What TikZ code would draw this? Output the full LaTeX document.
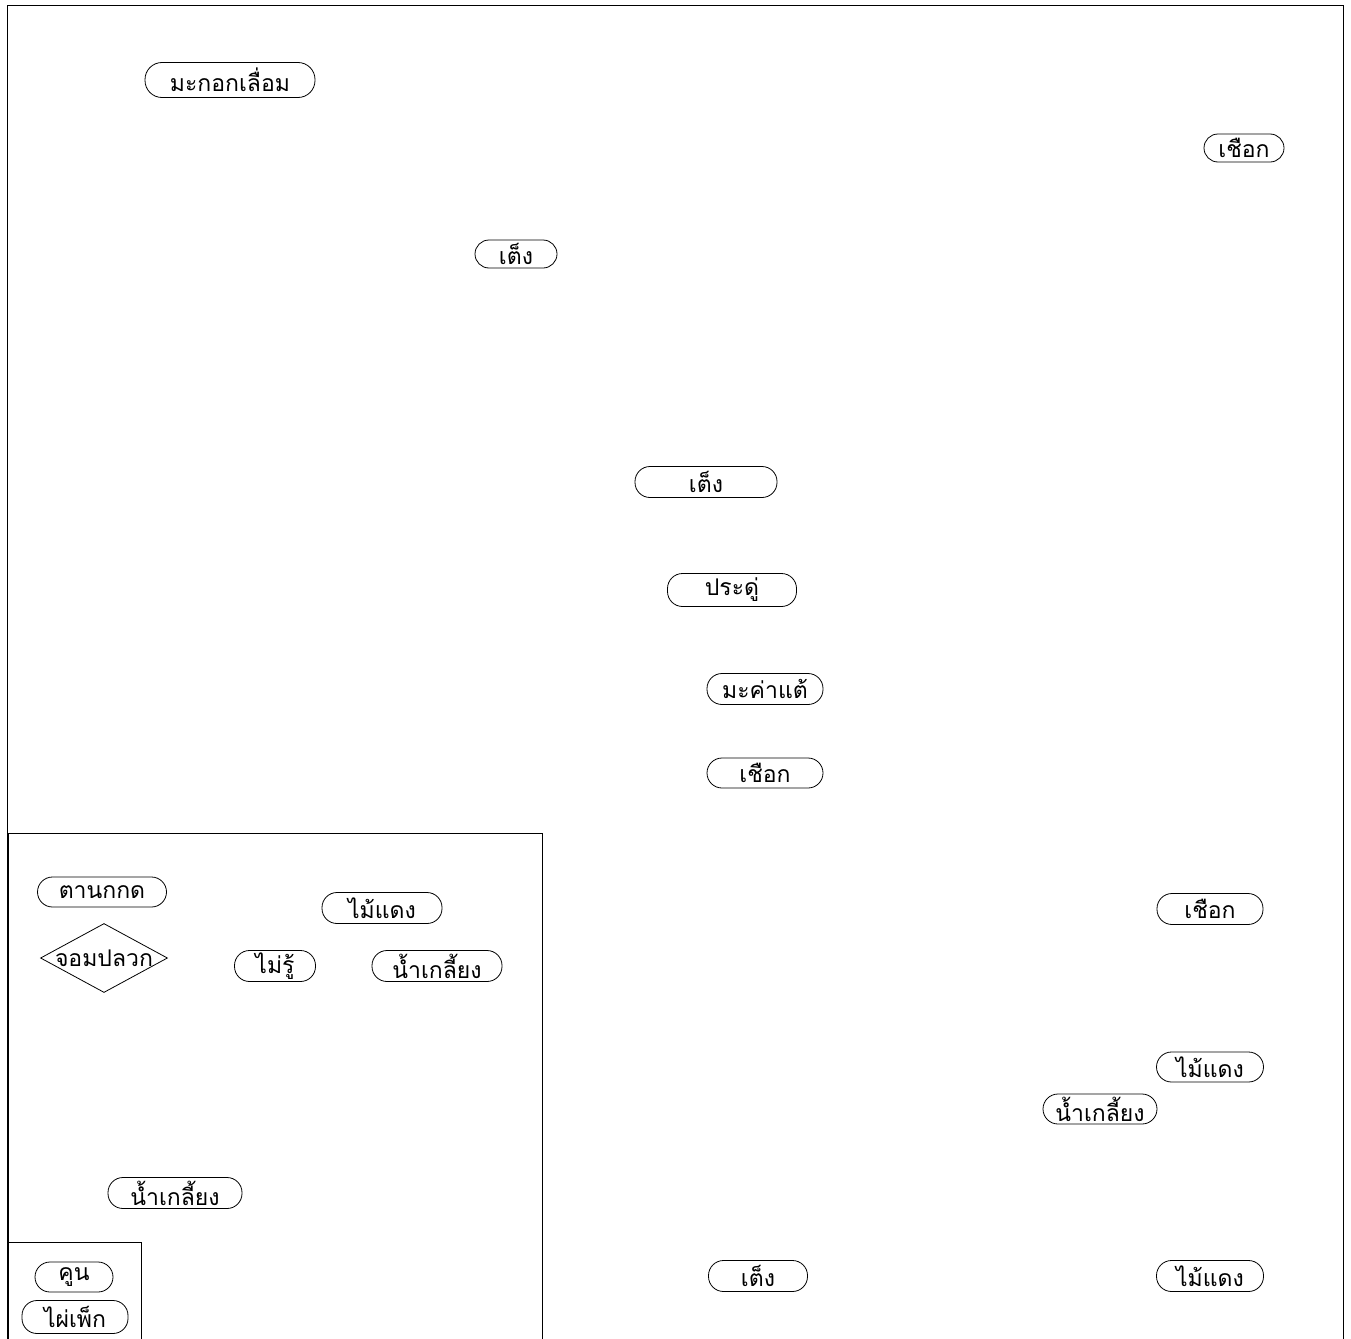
\documentclass[tikz,border=0pt]{standalone}
\usepackage{fontspec}
\newfontfamily\thaifont[Script=Thai]{Loma}
\usetikzlibrary{shapes.geometric}
\tikzset{
  pill/.style={draw,line width=0.8pt,rounded corners=15pt,minimum height=31pt,inner sep=1pt,font=\thaifont\fontsize{23}{26}\selectfont},
  mound/.style={draw,line width=0.8pt,shape=diamond,inner sep=0pt,minimum width=127pt,minimum height=69pt,aspect=1.84,font=\thaifont\fontsize{23}{26}\selectfont},
  frame/.style={draw,line width=0.9pt}
}
\begin{document}
\begin{tikzpicture}[x=1pt,y=-1pt]
\useasboundingbox (0,0) rectangle (1351,1338);
\begin{scope}
\clip (0,0) rectangle (1351,1338);
\draw[frame] (7,5) rectangle (1343,1360);
\draw[frame] (8,833) rectangle (542,1360);
\draw[frame] (8,1242) rectangle (141,1360);
\end{scope}
% upper part
\node[pill,minimum width=170pt,minimum height=35pt,rounded corners=17pt] (makok) at (230,80) {มะกอกเลื่อม};
\node[pill,minimum width=80pt,minimum height=28pt,rounded corners=14pt] (chueakA) at (1244,148) {เชือก};
\node[pill,minimum width=82pt,minimum height=28pt,rounded corners=14pt] (tengA) at (516,254) {เต็ง};
\node[pill,minimum width=142pt] (tengB) at (706,482) {เต็ง};
\node[pill,minimum width=129pt,minimum height=33pt] (praduu) at (732,590) {ประดู่};
\node[pill,minimum width=116pt] (makha) at (765,689) {มะค่าแต้};
\node[pill,minimum width=116pt,minimum height=30pt] (chueakB) at (765,773) {เชือก};
% left panel
\node[pill,minimum width=129pt,minimum height=30pt] (tannok) at (102,892) {ตานกกด};
\node[pill,minimum width=120pt] (maidaengA) at (382,908) {ไม้แดง};
\node[mound] (jom) at (104,958) {\makebox[0pt]{จอมปลวก}};
\node[pill,minimum width=81pt] (mairu) at (275,966) {ไม่รู้};
\node[pill,minimum width=130pt] (namA) at (437,966) {น้ำเกลี้ยง};
\node[pill,minimum width=134pt] (namB) at (175,1193) {น้ำเกลี้ยง};
\node[pill,minimum width=78pt,minimum height=30pt] (khun) at (74,1277) {คูน};
\node[pill,minimum width=106pt,minimum height=33pt] (phai) at (75,1317) {ไผ่เพ็ก};
% right part
\node[pill,minimum width=106pt] (chueakC) at (1210,909) {เชือก};
\node[pill,minimum width=107pt,minimum height=30pt] (maidaengB) at (1210,1067) {ไม้แดง};
\node[pill,minimum width=114pt,minimum height=30pt] (namC) at (1100,1109) {น้ำเกลี้ยง};
\node[pill,minimum width=99pt] (tengC) at (758,1276) {เต็ง};
\node[pill,minimum width=107pt] (maidaengC) at (1210,1276) {ไม้แดง};
\end{tikzpicture}
\end{document}
